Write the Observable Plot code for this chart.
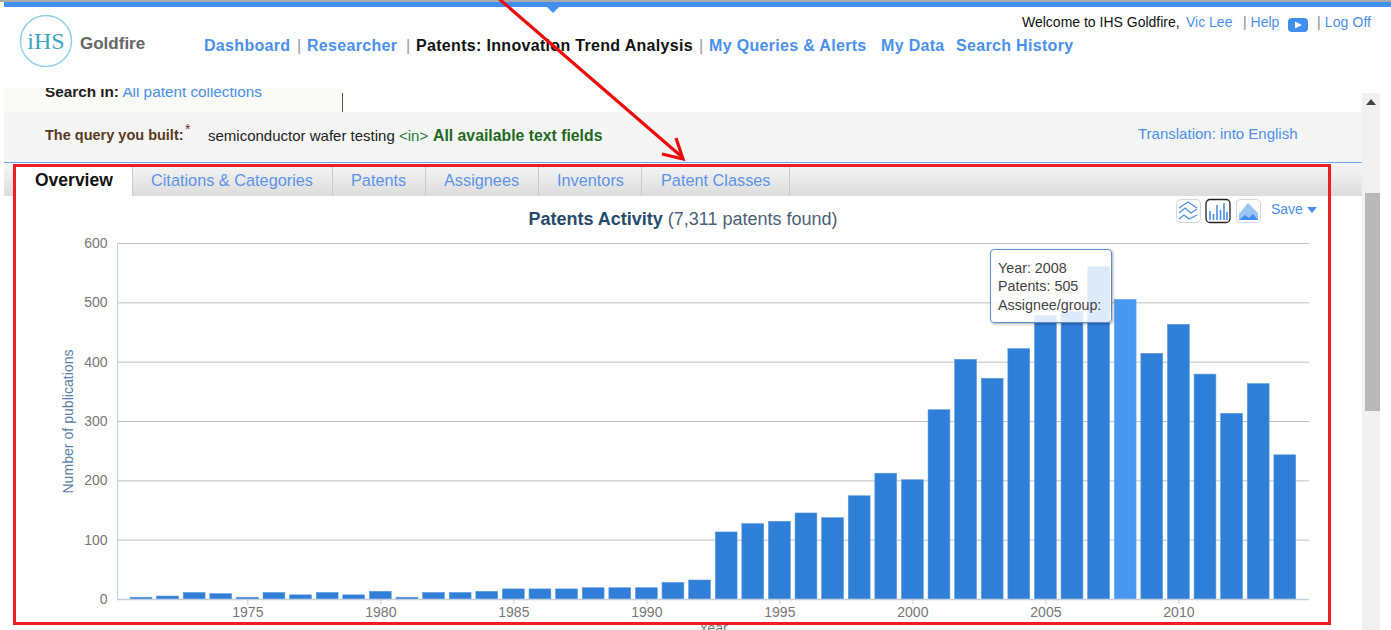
<!DOCTYPE html>
<html>
<head>
<meta charset="utf-8">
<script src="https://cdn.jsdelivr.net/npm/d3@7"></script>
<script src="https://cdn.jsdelivr.net/npm/@observablehq/plot@0.6"></script>
<style>
html,body{margin:0;padding:0;background:#fff;}
#page{position:relative;width:1391px;height:630px;overflow:hidden;background:#fff;font-family:"Liberation Sans",Arial,sans-serif;}
#page .a{position:absolute;white-space:nowrap;line-height:1;}
.blue{color:#4a90ec}
.nav{font-size:16px;font-weight:bold;top:38px;letter-spacing:.32px}
.sep{color:#999;font-weight:normal;font-size:16px;top:38px}
.top{font-size:14px;top:15px}
.tab{font-size:16.3px;top:172px;color:#5b93ea}
.tsep{position:absolute;top:164px;height:32px;width:1px;background:#c8c8c8}
#chart{position:absolute;left:14px;top:222px}
#chart svg{display:block;background:transparent}
#tip{position:absolute;left:990px;top:249px;width:120px;height:72px;background:rgba(255,255,255,.84);border:1.5px solid #5b8fd0;border-radius:4px;box-shadow:1px 1px 3px rgba(0,0,0,.35);box-sizing:content-box}
#tip div{position:absolute;left:7px;font-size:14.3px;color:#444;white-space:nowrap;line-height:1}
</style>
</head>
<body>
<div id="page">
  <div class="a" style="left:0;top:0;width:1391px;height:2px;background:#aaa"></div>
  <div class="a" style="left:4px;top:2px;width:1387px;height:5px;background:#3f8ef0"></div>
  <svg class="a" style="left:546px;top:7px" width="14" height="7"><path d="M1 0H13L7 6Z" fill="#3f8ef0"/></svg>

  <svg class="a" style="left:18px;top:14px" width="56" height="56">
    <circle cx="28" cy="27" r="25.5" fill="none" stroke="#8fd0e6" stroke-width="1.5"/>
    <text x="28" y="35" text-anchor="middle" font-family="Liberation Serif" font-size="24" fill="#3aa5c5">iHS</text>
  </svg>
  <div class="a" style="left:80px;top:35px;font-size:17px;font-weight:bold;color:#666">Goldfire</div>

  <div class="a nav blue" style="left:204px">Dashboard</div>
  <div class="a sep" style="left:297px">|</div>
  <div class="a nav blue" style="left:307px">Researcher</div>
  <div class="a sep" style="left:406px">|</div>
  <div class="a nav" style="left:416px;color:#111">Patents: Innovation Trend Analysis</div>
  <div class="a sep" style="left:699px">|</div>
  <div class="a nav blue" style="left:709px">My Queries &amp; Alerts</div>
  <div class="a nav blue" style="left:881px">My Data</div>
  <div class="a nav blue" style="left:956px">Search History</div>

  <div class="a top" style="left:1022px;color:#111">Welcome to IHS Goldfire,</div>
  <div class="a top blue" style="left:1186px">Vic Lee</div>
  <div class="a top blue" style="left:1243px"><span style="color:#888">|</span> Help</div>
  <svg class="a" style="left:1288px;top:18px" width="20" height="14"><rect width="20" height="14" rx="4" fill="#3f8ef0"/><path d="M7 3.500L14 7L7 10.500Z" fill="#fff"/></svg>
  <div class="a top blue" style="left:1317px;letter-spacing:.1px"><span style="color:#888">|</span> Log Off</div>

  <div class="a" style="left:4px;top:88px;width:338px;height:24px;background:#fafaf6;overflow:hidden">
    <div class="a" style="left:41px;top:-4px;font-size:15.3px"><b style="color:#222">Search in:</b> <span class="blue">All patent collections</span></div>
  </div>
  <div class="a" style="left:342px;top:93px;width:1px;height:19px;background:#555"></div>

  <div class="a" style="left:4px;top:112px;width:1358px;height:50px;background:#f5f5f5"></div>
  <div class="a" style="left:45px;top:128px;font-size:14.5px;font-weight:bold;color:#5b3a22">The query you built:</div>
  <div class="a" style="left:185px;top:122px;font-size:14px;color:#7a3020">*</div>
  <div class="a" style="left:208px;top:128px;font-size:15px;color:#222">semiconductor wafer testing</div>
  <div class="a" style="left:399px;top:128px;font-size:15px;color:#2a7a3a">&lt;in&gt;</div>
  <div class="a" style="left:433px;top:128px;font-size:15.8px;font-weight:bold;color:#1f6a22">All available text fields</div>
  <div class="a blue" style="left:1138px;top:126px;font-size:15px">Translation: into English</div>
  <div class="a" style="left:4px;top:162px;width:1358px;height:1px;background:#6aa5ec"></div>

  <div class="a" style="left:4px;top:163px;width:1358px;height:33px;background:linear-gradient(#f6f6f6,#dcdcdc)"></div>
  <div class="a" style="left:15px;top:164px;width:117px;height:33px;background:#fff;border-top:2px solid #f2b01e;box-sizing:border-box"></div>
  <div class="a" style="left:35px;top:172px;font-size:17.500px;font-weight:bold;color:#111">Overview</div>
  <div class="a tab" style="left:151px">Citations &amp; Categories</div>
  <div class="a tab" style="left:351px">Patents</div>
  <div class="a tab" style="left:444px">Assignees</div>
  <div class="a tab" style="left:557px">Inventors</div>
  <div class="a tab" style="left:661px">Patent Classes</div>
  <div class="tsep" style="left:132px"></div><div class="tsep" style="left:332px"></div><div class="tsep" style="left:425px"></div><div class="tsep" style="left:538px"></div><div class="tsep" style="left:641px"></div><div class="tsep" style="left:789px"></div>

  <div class="a" style="left:0;top:210px;width:1366px;text-align:center;font-size:18px;color:#4d6078"><b style="color:#274b6d">Patents Activity</b> (7,311 patents found)</div>

  <svg class="a" style="left:1175px;top:198px" width="88" height="26">
    <g fill="#fff" stroke="#cfd8e4"><rect x="1.5" y="1.5" width="24" height="23" rx="4"/><rect x="61.5" y="1.5" width="24" height="23" rx="4"/></g>
    <rect x="31" y="1.5" width="24" height="23" rx="4" fill="#fff" stroke="#222" stroke-width="1.3"/>
    <g fill="none" stroke="#4a8fe8" stroke-width="1.2"><path d="M4 10L13 4L22 10"/><path d="M4 15L10 10L16 15L22 11"/><path d="M4 21L9 17L14 21L22 17"/></g>
    <g stroke="#4a8fe8" stroke-width="1.6"><path d="M35 22V13M38.500 22V16M42 22V7M45.500 22V12M49 22V5M52 22V14"/></g>
    <path d="M64 16L73 5L83 15V22H64Z" fill="#9cc4f2"/><path d="M64 22L70 17L74 20L78 16L83 22Z" fill="#3f8ef0"/>
  </svg>
  <div class="a blue" style="left:1271px;top:202px;font-size:14px">Save</div>
  <svg class="a" style="left:1307px;top:207px" width="10" height="7"><path d="M0 0H10L5 6Z" fill="#3f8ef0"/></svg>

  <div class="a" style="left:1362px;top:93px;width:18px;height:537px;background:#f0f0f0"></div>
  <svg class="a" style="left:1366px;top:99px" width="10" height="7"><path d="M0 6H10L5 0Z" fill="#444"/></svg>
  <div class="a" style="left:1365px;top:193px;width:15px;height:218px;background:#b8b8b8"></div>

  <div id="chart"></div>

  <div id="tip">
    <div style="top:11px">Year: 2008</div>
    <div style="top:29px">Patents: 505</div>
    <div style="top:48px">Assignee/group:</div>
  </div>

  <div class="a" style="left:13px;top:164px;width:1318px;height:461px;border:3.5px solid #ee1c25;box-sizing:border-box"></div>
  <svg class="a" style="left:0;top:0" width="1391" height="630">
    <g fill="none" stroke="#ee0a0a" stroke-width="3.2"><path d="M497 -3L682 157"/><path d="M662 154L683 159L676 138"/></g>
  </svg>
</div>
<script>
const years = [1971,1972,1973,1974,1975,1976,1977,1978,1979,1980,1981,1982,1983,1984,1985,1986,1987,1988,1989,1990,1991,1992,1993,1994,1995,1996,1997,1998,1999,2000,2001,2002,2003,2004,2005,2006,2007,2008,2009,2010,2011,2012,2013,2014];
const patents = [3,5,11,9,3,11,7,11,7,13,3,11,11,13,17,17,17,19,19,19,28,32,113,127,131,145,137,174,212,201,319,404,372,422,478,484,560,505,414,463,379,313,363,243];
const highlightYear = 2008;
const yTicks = [0,100,200,300,400,500,600];
const xTicks = [1975,1980,1985,1990,1995,2000,2005,2010];
const barHalf = 0.41;

const rows = years.map((year,i)=>({year,patents:patents[i]}));
const chart = Plot.plot({
  width:1316, height:412,
  marginLeft:103, marginRight:21, marginTop:21, marginBottom:35,
  style:{background:"transparent",fontFamily:'"Liberation Sans",Arial,sans-serif',overflow:"visible"},
  x:{domain:[1970.10,2014.91]},
  y:{domain:[0,600]},
  marks:[
    Plot.ruleY(yTicks.filter(d=>d>0),{stroke:"#c0c0c0",strokeWidth:1}),
    Plot.ruleX([1970.10],{y1:0,y2:600,stroke:"#c0d0e0"}),
    Plot.rectY(rows,{
      x1:d=>d.year-barHalf, x2:d=>d.year+barHalf, y:"patents",
      fill:d=>d.year===highlightYear?"#4897f1":"#2f7ed8",
      stroke:d=>d.year===highlightYear?"#6aaaf3":"#5a98e2", strokeWidth:.6
    }),
    Plot.ruleY([0],{stroke:"#c0d0e0",strokeWidth:1.5}),
    Plot.axisX({ticks:xTicks,tickFormat:d=>String(d),tickSize:5,stroke:"#c0d0e0",color:"#777",fontSize:14,tickPadding:3,
      label:"Year",labelAnchor:"center",labelArrow:"none",labelOffset:33}),
    Plot.axisY({ticks:yTicks,tickSize:0,color:"#777",fontSize:14,tickPadding:10,label:null}),
    Plot.axisY({ticks:[],tickSize:0,color:"#5a7ea8",fontSize:14.1,
      label:"Number of publications",labelAnchor:"center",labelArrow:"none",labelOffset:55}),
  ]
});
document.getElementById("chart").appendChild(chart);
</script>
</body>
</html>
